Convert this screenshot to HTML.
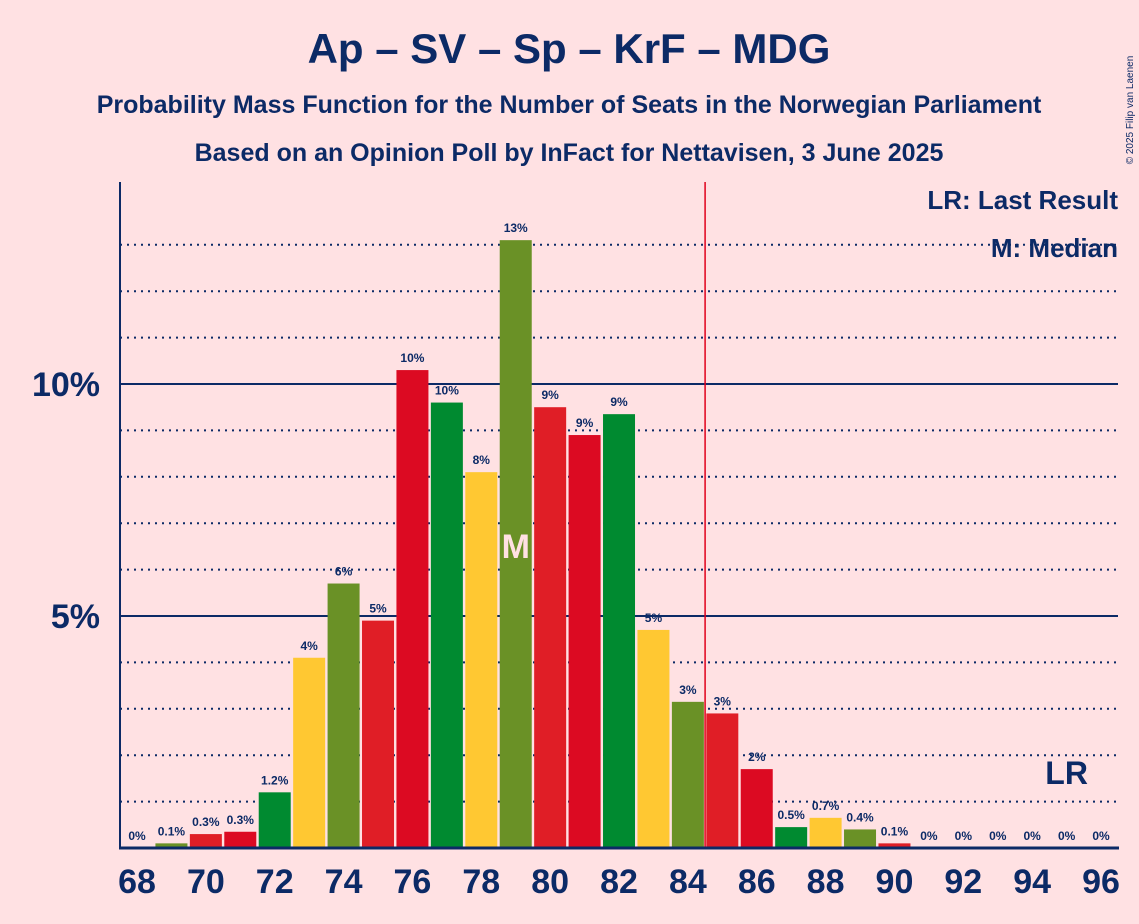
<!DOCTYPE html>
<html><head><meta charset="utf-8"><style>
body{margin:0;background:#ffe1e3;}
svg{display:block;font-family:"Liberation Sans",sans-serif;}
</style></head><body>
<svg width="1139" height="924" xmlns="http://www.w3.org/2000/svg" id="chart">
<rect width="1139" height="924" fill="#ffe1e3"/>
<text x="569" y="63" text-anchor="middle" font-size="42" font-weight="bold" fill="#0c2a66">Ap – SV – Sp – KrF – MDG</text>
<text x="569" y="113" text-anchor="middle" font-size="25" font-weight="bold" fill="#0c2a66">Probability Mass Function for the Number of Seats in the Norwegian Parliament</text>
<text x="569" y="161" text-anchor="middle" font-size="25" font-weight="bold" fill="#0c2a66">Based on an Opinion Poll by InFact for Nettavisen, 3 June 2025</text>
<text x="1133" y="110" font-size="10" fill="#0c2a66" transform="rotate(-90 1133 110)" text-anchor="middle">© 2025 Filip van Laenen</text>
<g id="grid"></g>
<g id="bars"></g>
<g id="labels"></g>
<line x1="120" y1="182" x2="120" y2="849" stroke="#0c2a66" stroke-width="2"/>
<line x1="119" y1="848" x2="1119" y2="848" stroke="#0c2a66" stroke-width="3"/>
<text x="1118" y="209" text-anchor="end" font-size="26" font-weight="bold" fill="#0c2a66">LR: Last Result</text>
<text x="1118" y="257" text-anchor="end" font-size="26" font-weight="bold" fill="#0c2a66">M: Median</text>
</svg>
<script>
const seats=[68,69,70,71,72,73,74,75,76,77,78,79,80,81,82,83,84,85,86,87,88,89,90,91,92,93,94,95,96];
const probs=[0,0.1,0.3,0.35,1.2,4.1,5.7,4.9,10.3,9.6,8.1,13.1,9.5,8.9,9.35,4.7,3.15,2.9,1.7,0.45,0.65,0.4,0.1,0,0,0,0,0,0];
const valueLabels=["0%","0.1%","0.3%","0.3%","1.2%","4%","6%","5%","10%","10%","8%","13%","9%","9%","9%","5%","3%","3%","2%","0.5%","0.7%","0.4%","0.1%","0%","0%","0%","0%","0%","0%"];
const yTicks=[5,10];
const median=79, lastResult=95, majority=84.5;
const colors=["#ffc832","#6a9126","#e01e26","#dc0a22","#008a30"];
const NS="http://www.w3.org/2000/svg";
const X=s=>137+(s-68)*34.43, Y=v=>848-v*46.4;
function mk(tag,attrs,parent,txt){const e=document.createElementNS(NS,tag);for(const k in attrs)e.setAttribute(k,attrs[k]);if(txt!==undefined)e.textContent=txt;document.getElementById(parent).appendChild(e);return e;}
for(let p=1;p<=13;p++){
  const solid=yTicks.includes(p);
  const l=mk("line",{x1:120,x2:1118,y1:Y(p),y2:Y(p),stroke:"#0c2a66","stroke-width":solid?2:2,"stroke-dasharray":solid?"":"2,5"},"grid");
  
  
}
yTicks.forEach(t=>{
  const e=mk("text",{x:100,y:Y(t)+12,"text-anchor":"end","font-size":34,"font-weight":"bold",fill:"#0c2a66"},"grid",t+"%");
  
  
});
seats.forEach((s,i)=>{
  const v=probs[i];
  if(v>0){
    const r=mk("rect",{x:X(s)-16,y:Y(v),width:32,height:848-Y(v),fill:colors[(s-68)%5]},"bars");
    
    
  }
  const t=mk("text",{x:X(s),y:Y(v)-8,"text-anchor":"middle","font-size":12,"font-weight":"bold",fill:"#0c2a66"},"labels",valueLabels[i]);
  
  
  if(s%2===0){
    const xl=mk("text",{x:X(s),y:893,"text-anchor":"middle","font-size":34,"font-weight":"bold",fill:"#0c2a66"},"labels",s);
    
    
  }
});
const mi=seats.indexOf(median);
const m=mk("text",{x:X(median),y:558,"text-anchor":"middle","font-size":34,"font-weight":"bold",fill:"#ffe1e3"},"labels","M");


const ml=mk("line",{x1:X(majority),x2:X(majority),y1:182,y2:848,stroke:"#e0001b","stroke-width":1.5},"labels");


const lr=mk("text",{x:X(lastResult),y:784,"text-anchor":"middle","font-size":32,"font-weight":"bold",fill:"#0c2a66"},"labels","LR");


</script>
</body></html>
